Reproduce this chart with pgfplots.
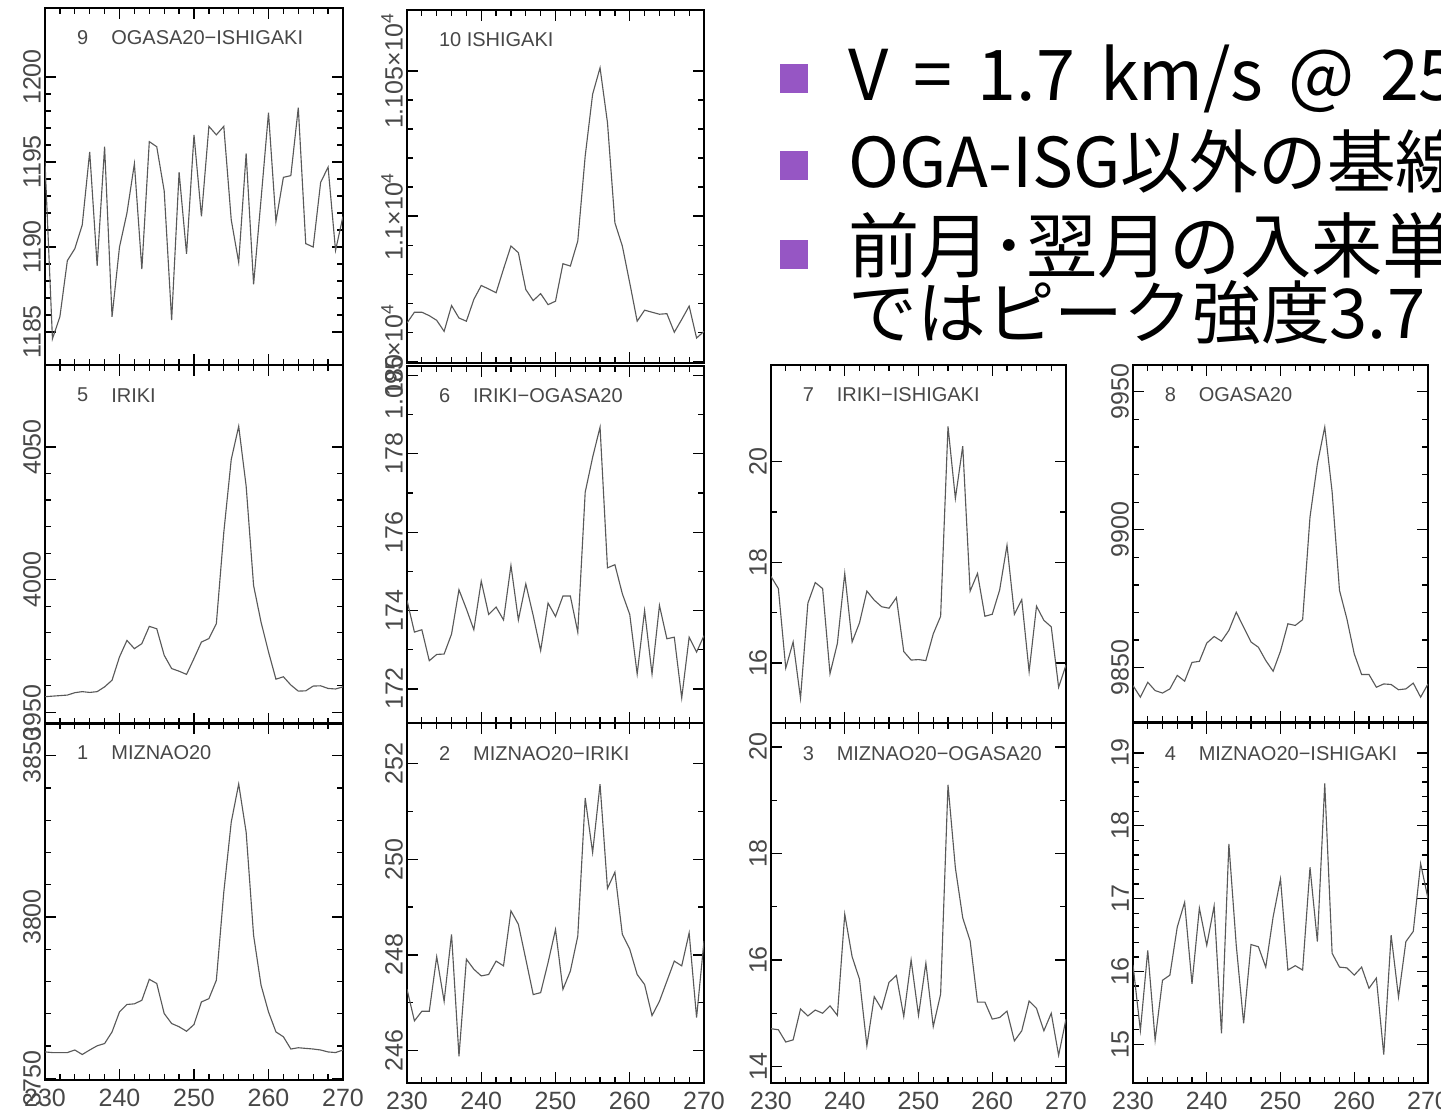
\documentclass[border=0pt]{standalone}
\usepackage{fontspec}
\setmainfont{Liberation Sans}
\newfontfamily\jp{Noto Sans CJK JP}
\newfontfamily\jpw[WordSpace=1.6]{Noto Sans CJK JP}
\usepackage{pgfplots}
\usepackage{pgfplotstable}
\pgfplotsset{compat=1.18}
\definecolor{bul}{RGB}{150,86,196}

\pgfplotstableread{
x p1 p2 p3 p4 p5 p6 p7 p8 p9 p10
230 3758.2 247.28 14.71 16.09 3955.9 174.26 17.72 9843.5 1195 10963.2
231 3758 246.62 14.69 15.19 3956.1 173.45 17.48 9839.3 1184.6 10966.9
232 3758 246.82 14.46 16.29 3956.3 173.51 15.9 9844.7 1185.9 10966.9
233 3758 246.82 14.5 15.06 3956.5 172.72 16.42 9841.7 1189.2 10965.7
234 3758.8 247.96 15.08 15.88 3957.4 172.88 15.3 9840.8 1189.9 10964.1
235 3757.4 247.03 14.95 15.95 3957.8 172.89 17.19 9842.3 1191.3 10960.3
236 3758.8 248.43 15.06 16.61 3957.5 173.4 17.6 9847.2 1195.6 10969.2
237 3760.1 245.88 15 16.95 3957.8 174.53 17.48 9845.1 1188.9 10964.9
238 3760.8 247.91 15.14 15.83 3959.6 174.04 15.79 9851.9 1195.9 10963.8
239 3764.4 247.7 14.96 16.87 3962.1 173.51 16.39 9852.3 1185.9 10971.3
240 3770.6 247.56 16.86 16.36 3970.9 174.75 17.78 9858.9 1190 10976.1
241 3772.9 247.59 16.06 16.9 3977.1 173.9 16.42 9861.3 1192 10974.9
242 3773.1 247.87 15.64 15.15 3974 174.09 16.8 9859.6 1194.9 10973.6
243 3774.2 247.77 14.39 17.75 3975.9 173.76 17.43 9863.5 1188.7 10981.8
244 3780.7 248.92 15.31 16.36 3982.4 175.15 17.25 9870.1 1196.2 10989.7
245 3779.4 248.64 15.08 15.29 3981.5 173.76 17.12 9864.7 1195.9 10987.4
246 3770.1 247.91 15.58 16.37 3971.5 174.68 17.09 9859.3 1193.3 10974.7
247 3767 247.17 15.71 16.34 3966.5 173.87 17.3 9857.4 1185.7 10970.9
248 3766 247.21 14.94 16.06 3965.5 172.98 16.23 9852.6 1194.4 10973.3
249 3764.6 247.84 16 16.75 3964.3 174.19 16.06 9848.7 1189.6 10969.5
250 3766.7 248.53 14.96 17.27 3970.3 173.85 16.07 9856 1196.6 10970.7
251 3773.7 247.28 15.94 16.02 3976.5 174.37 16.05 9865.9 1191.8 10983.6
252 3774.7 247.66 14.75 16.08 3977.8 174.37 16.58 9865.3 1197.1 10982.8
253 3780.4 248.39 15.36 16.02 3983.4 173.45 16.93 9867.4 1196.6 10991.4
254 3807.7 251.28 19.29 17.43 4017.8 177.02 20.7 9904.6 1197.1 11020.7
255 3829.4 250.14 17.73 16.41 4045.3 177.91 19.27 9923.9 1191.6 11042
256 3841.2 251.57 16.79 18.58 4057.8 178.68 20.31 9937.2 1189.1 11051.1
257 3826.3 249.39 16.36 16.25 4035.3 175.09 17.43 9913.7 1195.5 11032.2
258 3794.3 249.73 15.21 16.06 3997.8 175.17 17.78 9878 1187.8 10997.7
259 3778.9 248.43 15.21 16.05 3984 174.43 16.93 9867.7 1192.8 10989.7
260 3770.6 248.12 14.89 15.95 3972.8 173.9 16.97 9855 1197.9 10977
261 3764.4 247.59 14.92 16.06 3962.5 172.38 17.45 9847.5 1191.5 10963.8
262 3762.9 247.38 15.04 15.77 3963.4 174 18.34 9847.5 1194.1 10967.6
263 3759.1 246.73 14.48 15.91 3960.3 172.38 16.97 9842.9 1194.2 10966.9
264 3759.5 247.03 14.67 14.86 3958 174.13 17.26 9844.1 1198.2 10966.2
265 3759.3 247.45 15.23 16.5 3958.1 173.28 15.83 9843.9 1190.2 10966.4
266 3759.1 247.87 15.09 15.65 3959.9 173.32 17.13 9842 1190 10960
267 3758.8 247.77 14.67 16.41 3960 171.77 16.85 9842.3 1193.8 10964.4
268 3758.2 248.46 15 16.55 3959 173.32 16.72 9844.4 1194.7 10969
269 3758 246.69 14.21 17.48 3958.8 172.94 15.52 9839.3 1189.8 10958
270 3758.8 248.29 14.89 17.0 3959.6 173.36 15.96 9844.1 1191.8 10960.3
}\data

\pgfplotsset{
 panel/.style={
  scale only axis, anchor=south west,
  xmin=230, xmax=270, xtick={230,240,250,260,270}, minor x tick num=4,
  xticklabels={}, scaled ticks=false,
  tick align=inside,
  major tick length=4.5pt, minor tick length=2.5pt,
  axis line style={line width=0.8pt},
  every tick/.style={black, line width=0.5pt},
  yticklabel style={rotate=90, anchor=south, font=\fontsize{10}{10}\selectfont, text=black!72, inner sep=1.5pt},
  xticklabel style={font=\fontsize{10}{10}\selectfont, text=black!72},
 },
 bottom/.style={xticklabels={230,240,250,260,270}},
 sp/.style={color=black!65, line width=0.45pt, mark=none},
}
\newcommand\ttl[2]{%
 \node[anchor=west,font=\fontsize{8}{8}\selectfont,text=black!72] at (axis description cs:0.078,0.916){#1};%
 \node[anchor=west,font=\fontsize{8}{8}\selectfont,text=black!72] at (axis description cs:0.193,0.916){#2};}

\begin{document}
\begin{tikzpicture}
\path[use as bounding box] (0,0) rectangle (576.4pt,-444.8pt);
\clip (0,0) rectangle (576.4pt,-444.8pt);

% panel 9
\begin{axis}[panel, at={(18pt,-146pt)}, width=119.2pt, height=142.8pt,
  ymin=1183.06, ymax=1204.06, ytick={1185,1190,1195,1200},
  yticklabels={1185,1190,1195,1200}, minor y tick num=4]
\addplot[sp] table[x=x,y=p9]{\data};
\ttl{9}{OGASA20−ISHIGAKI}
\end{axis}

% panel 10
\begin{axis}[panel, at={(162.8pt,-145.2pt)}, width=118.8pt, height=141.2pt,
  ymin=10949.4, ymax=11071, ytick={10950,11000,11050},
  yticklabels={{1.095×10\textsuperscript{4}},{1.1×10\textsuperscript{4}},{1.105×10\textsuperscript{4}}}, minor y tick num=4]
\addplot[sp] table[x=x,y=p10]{\data};
\node[anchor=west,font=\fontsize{8}{8}\selectfont,text=black!72] at (axis description cs:0.078,0.916){10 ISHIGAKI};
\end{axis}

% panel 5
\begin{axis}[panel, at={(18pt,-289.6pt)}, width=119.2pt, height=143.6pt,
  ymin=3945.6, ymax=4080.9, ytick={3950,4000,4050},
  yticklabels={3950,4000,4050}, minor y tick num=4]
\addplot[sp] table[x=x,y=p5]{\data};
\ttl{5}{IRIKI}
\end{axis}

% panel 6
\begin{axis}[panel, at={(162.8pt,-289.2pt)}, width=118.8pt, height=142.8pt,
  ymin=171.13, ymax=180.24, ytick={172,174,176,178,180},
  yticklabels={172,174,176,178,180}, minor y tick num=1]
\addplot[sp] table[x=x,y=p6]{\data};
\ttl{6}{IRIKI−OGASA20}
\end{axis}

% panel 7
\begin{axis}[panel, at={(308.4pt,-289.2pt)}, width=118pt, height=143.2pt,
  ymin=14.81, ymax=21.92, ytick={16,18,20},
  yticklabels={16,18,20}, minor y tick num=1]
\addplot[sp] table[x=x,y=p7]{\data};
\ttl{7}{IRIKI−ISHIGAKI}
\end{axis}

% panel 8
\begin{axis}[panel, at={(453.2pt,-288.8pt)}, width=118pt, height=142.8pt,
  ymin=9830.3, ymax=9959.7, ytick={9850,9900,9950},
  yticklabels={9850,9900,9950}, minor y tick num=4]
\addplot[sp] table[x=x,y=p8]{\data};
\ttl{8}{OGASA20}
\end{axis}

% panel 1
\begin{axis}[panel, bottom, at={(18pt,-432pt)}, width=119.2pt, height=142.8pt,
  ymin=3749.5, ymax=3860.1, ytick={3750,3800,3850},
  yticklabels={3750,3800,3850}, minor y tick num=4]
\addplot[sp] table[x=x,y=p1]{\data};
\ttl{1}{MIZNAO20}
\end{axis}

% panel 2
\begin{axis}[panel, bottom, at={(162.8pt,-433.2pt)}, width=118.8pt, height=144pt,
  ymin=245.32, ymax=252.85, ytick={246,248,250,252},
  yticklabels={246,248,250,252}, minor y tick num=1]
\addplot[sp] table[x=x,y=p2]{\data};
\ttl{2}{MIZNAO20−IRIKI}
\end{axis}

% panel 3
\begin{axis}[panel, bottom, at={(308.4pt,-433.2pt)}, width=118pt, height=144pt,
  ymin=13.69, ymax=20.45, ytick={14,16,18,20},
  yticklabels={14,16,18,20}, minor y tick num=1]
\addplot[sp] table[x=x,y=p3]{\data};
\ttl{3}{MIZNAO20−OGASA20}
\end{axis}

% panel 4
\begin{axis}[panel, bottom, at={(453.2pt,-433.2pt)}, width=118pt, height=144pt,
  ymin=14.47, ymax=19.41, ytick={15,16,17,18,19},
  yticklabels={15,16,17,18,19}, minor y tick num=4]
\addplot[sp] table[x=x,y=p4]{\data};
\ttl{4}{MIZNAO20−ISHIGAKI}
\end{axis}

% bullet text
\fill[bul] (312pt,-25.6pt) rectangle (323.2pt,-37.2pt);
\fill[bul] (312pt,-60.4pt) rectangle (323.2pt,-72pt);
\fill[bul] (312pt,-96pt) rectangle (323.2pt,-107.6pt);
\begin{scope}[every node/.style={anchor=base west, inner sep=0pt}]
\node[font=\jpw\fontsize{28}{28}\selectfont] at (339.2pt,-40pt) {V = 1.7 km/s @ 25};
\node[font=\jp\fontsize{27.5}{28}\selectfont] at (339.2pt,-74.8pt) {OGA-ISG以外の基線};
\node[font=\jp\fontsize{28.5}{28}\selectfont] at (339.2pt,-108.8pt) {前月･翌月の入来単};
\node[font=\jp\fontsize{27.5}{28}\selectfont] at (339.2pt,-135.2pt) {ではピーク強度3.7};
\end{scope}
\end{tikzpicture}
\end{document}
